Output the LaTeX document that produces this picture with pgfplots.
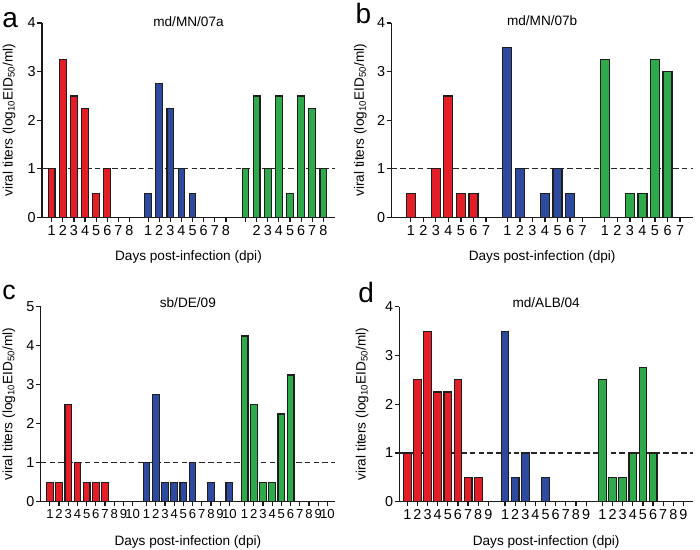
\documentclass[border=0pt]{standalone}
\usepackage{fontspec}
\setmainfont{Liberation Sans}
\usepackage{pgfplots}
\pgfplotsset{compat=1.18}

\definecolor{cred}{RGB}{228,30,38}
\definecolor{cblue}{RGB}{46,74,158}
\definecolor{cgreen}{RGB}{46,170,74}
\definecolor{cedge}{RGB}{30,30,30}

\pgfplotsset{
  panel/.style={
    scale only axis, anchor=south west,
    axis x line*=bottom, axis y line*=left,
    axis line style={line width=1.1pt, -, black!90},
    every tick/.style={line width=0.9pt, black!90},
    tick align=outside, major tick length=3.5pt,
    ymin=0,
    ticklabel style={font=\fontsize{10.8}{12}\selectfont},
    yticklabel style={inner sep=1pt},
    xticklabel style={inner sep=2pt},
    /pgf/number format/assume math mode=true,
    label style={font=\fontsize{10.2}{12}\selectfont},
    title style={font=\fontsize{10.2}{12}\selectfont, at={(axis description cs:0.5,1)}, anchor=center},
    xlabel={Days post-infection (dpi)},
    ylabel={viral titers (log\textsubscript{10}EID\textsubscript{50}/ml)},
    clip=false,
  },
  bars/.style={ybar, bar shift=0pt, bar width=#1, draw=cedge, line width=0.85pt},
  thr/.style={black!85, line width=0.9pt, dash pattern=on 4.2pt off 2.4pt},
}

\begin{document}
\begin{tikzpicture}
\useasboundingbox (0,0) rectangle (525pt,412.5pt);

% ---------------- panel a ----------------
\begin{axis}[panel,
  at={(31.5pt,249.375pt)}, width=219.75pt, height=145.875pt,
  xmin=0.126, xmax=26.5, ymax=4, ytick={0,1,2,3,4},
  xtick={1,2,3,4,5,6,7,8,9.68,10.68,11.68,12.68,13.68,14.68,15.68,16.68,18.45,19.45,20.45,21.45,22.45,23.45,24.45,25.45},
  xticklabels={1,2,3,4,5,6,7,8,1,2,3,4,5,6,7,8,{},2,3,4,5,6,7,8},
  title={md/MN/07a}, title style={yshift=-5pt},
  xlabel style={at={(axis description cs:0.5,-0.204)}, anchor=center},
  ylabel style={at={(axis description cs:-0.1126,0.5)}, anchor=center},
]
\addplot[thr] coordinates {(0.126,1) (26.5,1)};
\addplot[bars=0.6, fill=cred] coordinates {(1,1) (2,3.25) (3,2.5) (4,2.25) (5,0.5) (6,1)};
\addplot[bars=0.6, fill=cblue] coordinates {(9.68,0.5) (10.68,2.75) (11.68,2.25) (12.68,1) (13.68,0.5)};
\addplot[bars=0.6, fill=cgreen] coordinates {(18.45,1) (19.45,2.5) (20.45,1) (21.45,2.5) (22.45,0.5) (23.45,2.5) (24.45,2.25) (25.45,1)};
\end{axis}

% ---------------- panel b ----------------
\begin{axis}[panel,
  at={(293.5pt,249.375pt)}, width=226.25pt, height=145.875pt,
  xmin=-0.55, xmax=23.5, ymax=4, ytick={0,1,2,3,4},
  xtick={1,2,3,4,5,6,7,8.7,9.7,10.7,11.7,12.7,13.7,14.7,16.47,17.47,18.47,19.47,20.47,21.47,22.47},
  xticklabels={1,2,3,4,5,6,7,1,2,3,4,5,6,7,1,2,3,4,5,6,7},
  title={md/MN/07b}, title style={yshift=-4.5pt},
  xlabel style={at={(axis description cs:0.5,-0.203)}, anchor=center},
  ylabel style={at={(axis description cs:-0.103,0.5)}, anchor=center},
]
\addplot[thr] coordinates {(-0.55,1) (23.5,1)};
\addplot[bars=0.72, fill=cred] coordinates {(1,0.5) (3,1) (4,2.5) (5,0.5) (6,0.5)};
\addplot[bars=0.72, fill=cblue] coordinates {(8.7,3.5) (9.7,1) (11.7,0.5) (12.7,1) (13.7,0.5)};
\addplot[bars=0.72, fill=cgreen] coordinates {(16.47,3.25) (18.47,0.5) (19.47,0.5) (20.47,3.25) (21.47,3.0)};
\end{axis}

% ---------------- panel c ----------------
\begin{axis}[panel,
  at={(30.525pt,36.225pt)}, width=220.725pt, height=146.25pt,
  xmin=0, xmax=32.0, ymax=5, ytick={0,1,2,3,4,5},
  xtick={1,2,3,4,5,6,7,8,9,10,11.51,12.51,13.51,14.51,15.51,16.51,17.51,18.51,19.51,20.51,22.17,23.17,24.17,25.17,26.17,27.17,28.17,29.17,30.17,31.17},
  xticklabels={1,2,3,4,5,6,7,8,9,10,1,2,3,4,5,6,7,8,9,10,1,2,3,4,5,6,7,8,9,10},
  xticklabel style={font=\fontsize{9.8}{11}\selectfont},
  title={sb/DE/09}, title style={yshift=-3pt},
  xlabel style={at={(axis description cs:0.5,-0.207)}, anchor=center},
  ylabel style={at={(axis description cs:-0.108,0.5)}, anchor=center},
]
\addplot[thr] coordinates {(0,1) (32.0,1)};
\addplot[bars=0.73, fill=cred] coordinates {(1,0.5) (2,0.5) (3,2.5) (4,1) (5,0.5) (6,0.5) (7,0.5)};
\addplot[bars=0.73, fill=cblue] coordinates {(11.51,1) (12.51,2.75) (13.51,0.5) (14.51,0.5) (15.51,0.5) (16.51,1) (18.51,0.5) (20.51,0.5)};
\addplot[bars=0.73, fill=cgreen] coordinates {(22.17,4.25) (23.17,2.5) (24.17,0.5) (25.17,0.5) (26.17,2.25) (27.17,3.25)};
\end{axis}

% ---------------- panel d ----------------
\begin{axis}[panel,
  at={(299.475pt,36.225pt)}, width=220.275pt, height=146.25pt,
  xmin=0.21, xmax=29.2, ymax=4, ytick={0,1,2,3,4},
  xtick={1,2,3,4,5,6,7,8,9,10.65,11.65,12.65,13.65,14.65,15.65,16.65,17.65,18.65,20.26,21.26,22.26,23.26,24.26,25.26,26.26,27.26,28.26},
  xticklabels={1,2,3,4,5,6,7,8,9,1,2,3,4,5,6,7,8,9,1,2,3,4,5,6,7,8,9},
  title={md/ALB/04}, title style={yshift=-3pt},
  xlabel style={at={(axis description cs:0.5,-0.207)}, anchor=center},
  ylabel style={at={(axis description cs:-0.127,0.5)}, anchor=center},
]
\addplot[thr] coordinates {(0.21,1) (29.2,1)};
\addplot[bars=0.76, fill=cred] coordinates {(1,1) (2,2.5) (3,3.5) (4,2.25) (5,2.25) (6,2.5) (7,0.5) (8,0.5)};
\addplot[bars=0.76, fill=cblue] coordinates {(10.65,3.5) (11.65,0.5) (12.65,1) (14.65,0.5)};
\addplot[bars=0.76, fill=cgreen] coordinates {(20.26,2.5) (21.26,0.5) (22.26,0.5) (23.26,1) (24.26,2.75) (25.26,1)};
\end{axis}

% panel letters
\node[anchor=base west, inner sep=0pt, font=\fontsize{21}{24}\selectfont] at (1.5pt,391.5pt) {a};
\node[anchor=base west, inner sep=0pt, font=\fontsize{21}{24}\selectfont] at (266.5pt,394.5pt) {b};
\node[anchor=base west, inner sep=0pt, font=\fontsize{20}{24}\selectfont] at (1.5pt,187.5pt) {c};
\node[anchor=base west, inner sep=0pt, font=\fontsize{21}{24}\selectfont] at (268.5pt,185.25pt) {d};
\end{tikzpicture}
\end{document}
